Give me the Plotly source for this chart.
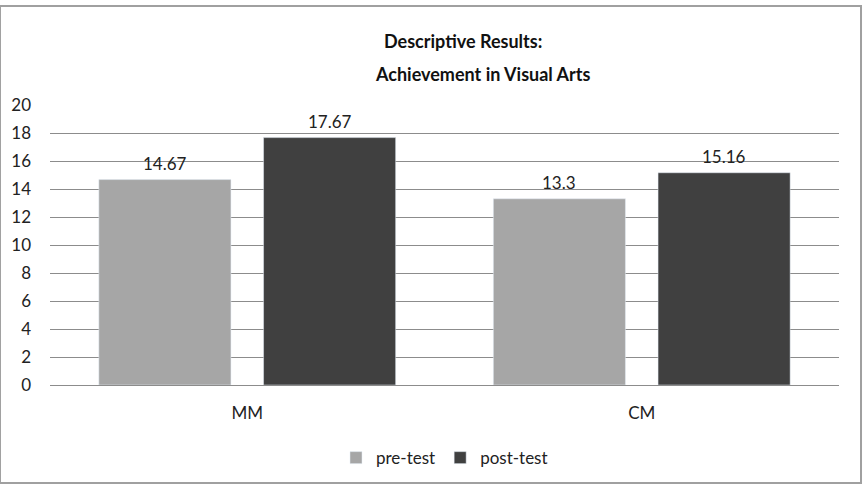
import plotly.graph_objects as go

categories = ["MM", "CM"]
pre_test = [14.67, 13.3]
post_test = [17.67, 15.16]
pre_labels = ["14.67", "13.3"]
post_labels = ["17.67", "15.16"]
y_ticks = list(range(0, 21, 2))

FONT = "Lato, 'Open Sans', sans-serif"
PRE_COLOR = "#A6A6A6"
POST_COLOR = "#404040"

fig = go.Figure()
fig.add_trace(go.Bar(name="pre-test", x=categories, y=pre_test, marker_color=PRE_COLOR,
                     offsetgroup="pre"))
fig.add_trace(go.Bar(name="post-test", x=categories, y=post_test, marker_color=POST_COLOR,
                     offsetgroup="post"))

annotations = [
    dict(text="<b>Descriptive Results:</b>", xref="paper", yref="paper",
         x=(463 - 50) / 789, y=(385 - 41) / 280, showarrow=False,
         xanchor="center", yanchor="middle", font=dict(size=18, color="#111")),
    dict(text="<b>Achievement in Visual Arts</b>", xref="paper", yref="paper",
         x=(483 - 50) / 789, y=(385 - 74) / 280, showarrow=False,
         xanchor="center", yanchor="middle", font=dict(size=18, color="#111")),
]

# data labels placed at the bar tops (value coordinates), shifted above
offset = 82.25 / 394
for i, c in enumerate(categories):
    annotations.append(dict(x=i - offset, y=pre_test[i], xref="x", yref="y", text=pre_labels[i],
                            showarrow=False, yanchor="middle", yshift=16,
                            font=dict(size=17, color="#222")))
    annotations.append(dict(x=i + offset, y=post_test[i], xref="x", yref="y", text=post_labels[i],
                            showarrow=False, yanchor="middle", yshift=16,
                            font=dict(size=17, color="#222")))

fig.update_layout(
    width=867, height=492,
    margin=dict(l=50, r=28, t=105, b=107),
    paper_bgcolor="white", plot_bgcolor="white",
    font=dict(family=FONT, size=17, color="#222"),
    barmode="group", bargap=0.165, bargroupgap=0.198,
    showlegend=True,
    legend=dict(orientation="h", x=0.5, xanchor="center", y=-0.261, yanchor="middle",
                font=dict(size=17), itemwidth=30, traceorder="normal"),
    xaxis=dict(showgrid=False, showline=False, ticks="", tickfont=dict(size=17),
               ticklabelstandoff=16),
    yaxis=dict(range=[0, 20], tickvals=y_ticks, showgrid=True, gridcolor="#8C8C8C",
               gridwidth=1, zeroline=True, zerolinecolor="#8C8C8C", zerolinewidth=1,
               showline=False, ticks="", ticklabelstandoff=18, tickfont=dict(size=17)),
    shapes=[dict(type="rect", xref="paper", yref="paper", x0=-0.0634, x1=1.0279,
                 y0=-0.35, y1=1.3536, line=dict(color="#A0A0A0", width=2), layer="below")],
    annotations=annotations,
)

fig.write_html("out.html")
